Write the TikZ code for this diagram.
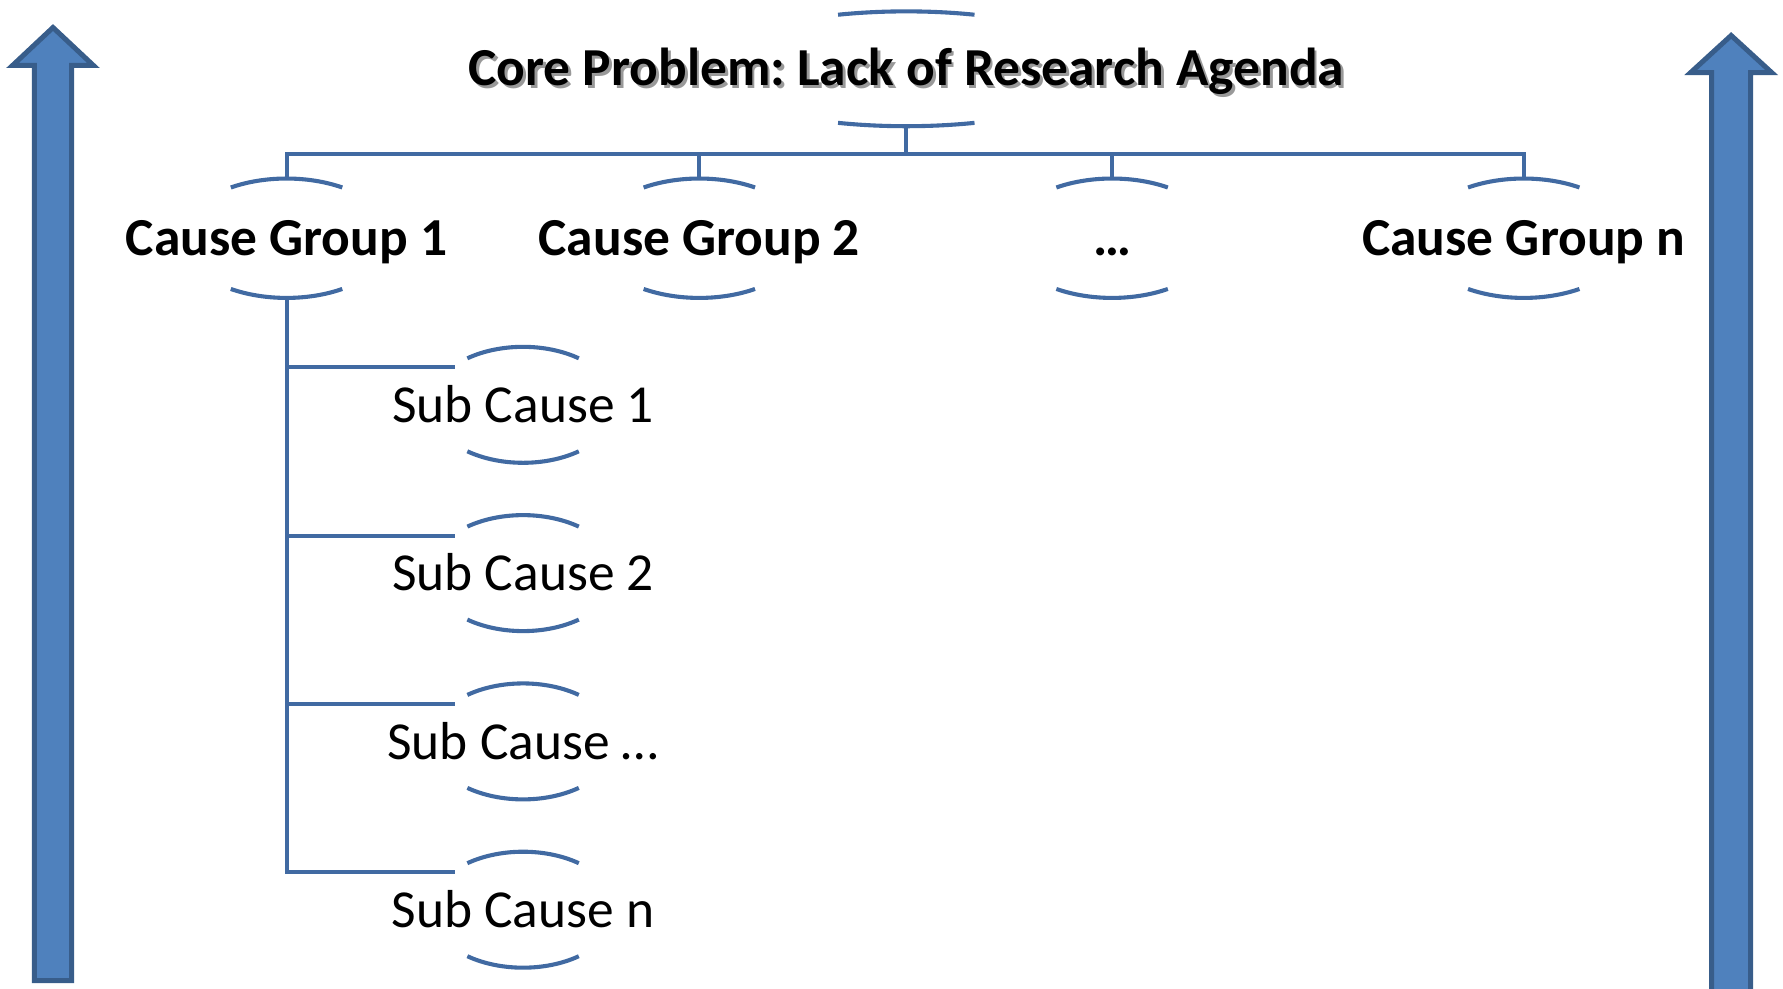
\documentclass[tikz,border=0pt]{standalone}
\usepackage{fontspec}
\setmainfont{Carlito}
\usetikzlibrary{calc,positioning}
\frenchspacing

\begin{document}
\begin{tikzpicture}[x=1pt,y=-1pt]
		\definecolor{linecol}{RGB}{65,106,162}
		\definecolor{arrfill}{RGB}{79,129,189}
		\definecolor{arrdraw}{RGB}{56,93,138}
		\tikzstyle{line} = [draw=linecol, line width=3.6pt]
		\tikzstyle{bigarrow} = [fill=arrfill, draw=arrdraw, line width=4.4pt, line join=miter]
		\tikzstyle{core} = [font=\fontsize{47}{54}\selectfont\bfseries, inner sep=0, text height=34pt, text depth=4pt]
		\tikzstyle{group} = [font=\fontsize{47}{54}\selectfont\bfseries, inner sep=0, text height=34pt, text depth=3pt]
		\tikzstyle{sub} = [font=\fontsize{47}{54}\selectfont, inner sep=0, text height=36pt, text depth=5pt]
		\useasboundingbox (0,0) rectangle (1568,869);
		% side arrows
		\draw [bigarrow] (30.3,862.4) -- (30.3,57.6) -- (11,57.6) -- (46.6,24.2) -- (82.2,57.6) -- (62.9,57.6) -- (62.9,862.4) -- cycle;
		\draw [bigarrow] (1505.2,880) -- (1505.2,63.8) -- (1486.8,63.8) -- (1522.4,31.2) -- (1558,63.8) -- (1539.6,63.8) -- (1539.6,880) -- cycle;
		% core problem
		\node [core, text=black!40] (p0s) at (799.5,62.5) {Core Problem: Lack of Research Agenda};
		\node [core] (p0) at (797,60.5) {Core Problem: Lack of Research Agenda};
		\draw [line] (p0) ++(250.3:178 and 50.5) arc [start angle=250.3, end angle=289.7, x radius=178, y radius=50.5];
		\draw [line] (p0) ++(109.7:178 and 50.5) arc [start angle=109.7, end angle=70.3, x radius=178, y radius=50.5];
		\coordinate (p0-b) at ($(p0)+(0,50.5)$);
		% cause groups
		\node [group] (g1) at (252,209.5) {Cause Group 1};
		\node [group] (g2) at (615,209.5) {Cause Group 2};
		\node [group] (g3) at (978,209.5) {\dots};
		\node [group] (g4) at (1340,209.5) {Cause Group n};
		\foreach \n in {g1,g2,g3,g4} {
			\draw [line] (\n) ++(238.2:93 and 52.5) arc [start angle=238.2, end angle=301.8, x radius=93, y radius=52.5];
			\draw [line] (\n) ++(121.8:93 and 52.5) arc [start angle=121.8, end angle=58.2, x radius=93, y radius=52.5];
			\coordinate (\n-t) at ($(\n)+(0,-52.5)$);
			\coordinate (\n-b) at ($(\n)+(0,52.5)$);
		}
		% sub causes
		\node [sub] (s1) at (460,356) {Sub Cause 1};
		\node [sub] (s2) at (460,504) {Sub Cause 2};
		\node [sub] (s3) at (460,652) {Sub Cause \dots};
		\node [sub] (s4) at (460,800) {Sub Cause n};
		\foreach \n in {s1,s2,s3,s4} {
			\draw [line] (\n) ++(233.3:82 and 51) arc [start angle=233.3, end angle=306.7, x radius=82, y radius=51];
			\draw [line] (\n) ++(126.7:82 and 51) arc [start angle=126.7, end angle=53.3, x radius=82, y radius=51];
			\coordinate (\n-in) at ($(\n)+(-60,-33)$);
		}
		% connectors
		\coordinate (bus) at ($(p0-b)+(0,24.5)$);
		\draw [line] (p0-b) -- (bus);
		\draw [line] (g1-t) -- (g1-t |- bus) -- (g4-t |- bus) -- (g4-t);
		\draw [line] (g2-t) -- (g2-t |- bus);
		\draw [line] (g3-t) -- (g3-t |- bus);
		\draw [line] (g1-b) |- (s4-in);
		\draw [line] (g1-b |- s1-in) -- (s1-in);
		\draw [line] (g1-b |- s2-in) -- (s2-in);
		\draw [line] (g1-b |- s3-in) -- (s3-in);
\end{tikzpicture}
\end{document}
